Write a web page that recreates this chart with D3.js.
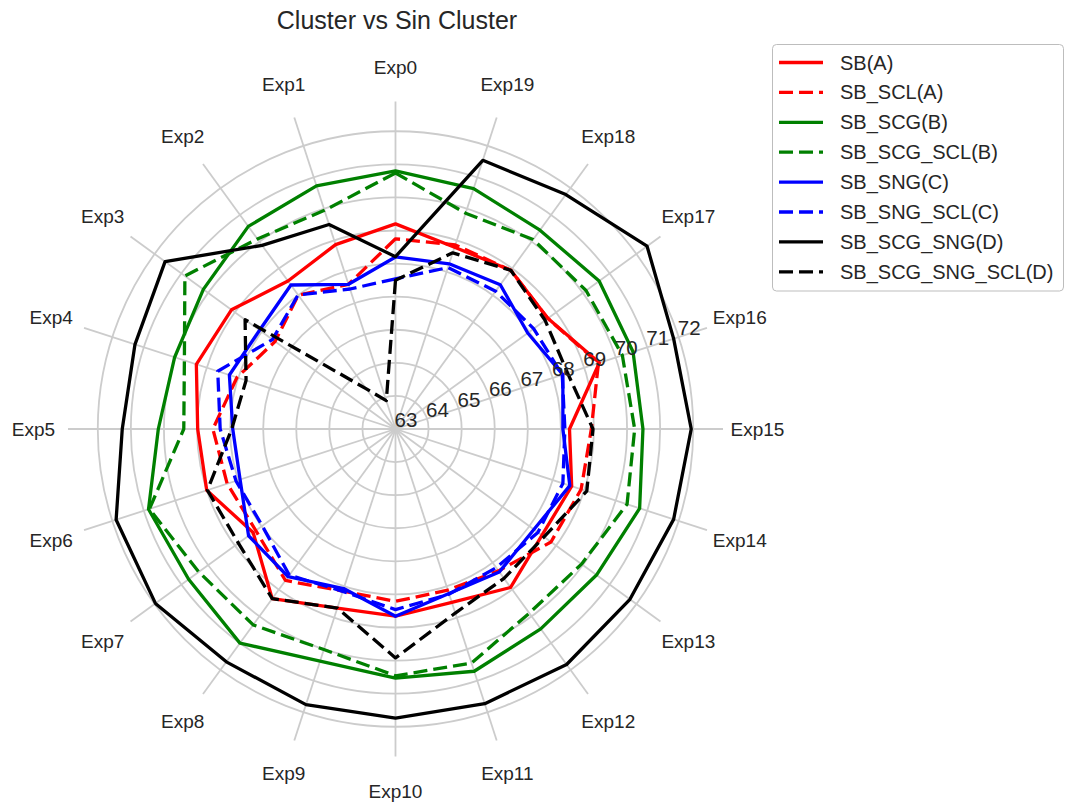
<!DOCTYPE html>
<html>
<head>
<meta charset="utf-8">
<script src="https://cdn.jsdelivr.net/npm/d3@7"></script>
<style>
  body { margin: 0; background: #ffffff; }
  svg { display: block; font-family: Arial, "Liberation Sans", sans-serif; }
</style>
</head>
<body>
<svg id="chart" width="1065" height="802"></svg>
<script>
// Experiments placed around the circle (counter-clockwise from the top)
const categories = ["Exp0","Exp1","Exp2","Exp3","Exp4","Exp5","Exp6","Exp7","Exp8","Exp9",
                    "Exp10","Exp11","Exp12","Exp13","Exp14","Exp15","Exp16","Exp17","Exp18","Exp19"];

// Radial tick values
const radialTicks = [63, 64, 65, 66, 67, 68, 69, 70, 71, 72];

// Scores per experiment, one array per configuration
const sbA          = [69.20, 68.86, 68.53, 69.13, 69.33, 68.98, 69.00, 68.32, 69.34, 68.69,
                      68.66, 68.51, 68.92, 68.47, 68.60, 68.26, 69.48, 68.69, 68.93, 68.78];
const sbSclA       = [68.75, 67.60, 68.00, 67.50, 68.04, 68.52, 68.35, 68.22, 68.66, 68.15,
                      68.21, 68.12, 68.30, 68.81, 68.90, 68.92, 69.45, 68.69, 68.93, 68.85];
const sbScgB       = [70.80, 70.73, 70.57, 70.18, 70.02, 70.17, 70.85, 70.73, 71.00, 70.38,
                      70.53, 70.70, 70.47, 70.51, 70.76, 70.48, 70.55, 70.61, 70.43, 70.64];
const sbScgSclB    = [70.74, 69.95, 70.10, 70.87, 69.71, 69.40, 70.82, 70.35, 70.32, 70.01,
                      70.46, 70.44, 69.88, 69.95, 70.36, 70.23, 70.21, 70.12, 70.08, 69.86];
const sbSngC       = [68.20, 67.60, 68.38, 68.08, 68.28, 67.92, 67.94, 68.49, 68.52, 68.07,
                      68.66, 68.23, 68.34, 68.17, 68.54, 68.06, 68.32, 67.94, 68.39, 68.25];
const sbSngSclC    = [67.54, 67.45, 68.01, 67.60, 68.65, 68.30, 68.07, 67.98, 68.46, 68.16,
                      68.46, 68.25, 68.18, 68.32, 68.32, 68.12, 68.30, 68.16, 68.15, 68.13];
const sbScgSngD    = [68.21, 69.50, 69.86, 71.61, 71.28, 71.26, 71.88, 71.97, 71.70, 71.76,
                      71.74, 71.73, 71.80, 71.76, 71.84, 71.94, 71.84, 72.40, 71.76, 71.54];
const sbScgSngSclD = [67.50, 63.90, 64.50, 68.62, 67.75, 67.95, 68.98, 68.87, 69.34, 68.69,
                      69.92, 68.85, 68.58, 68.55, 69.08, 68.97, 68.47, 68.59, 68.93, 68.60];

const seriesNames = ["SB(A)", "SB_SCL(A)", "SB_SCG(B)", "SB_SCG_SCL(B)",
                     "SB_SNG(C)", "SB_SNG_SCL(C)", "SB_SCG_SNG(D)", "SB_SCG_SNG_SCL(D)"];
const seriesValues = [sbA, sbSclA, sbScgB, sbScgSclB, sbSngC, sbSngSclC, sbScgSngD, sbScgSngSclD];

// Drawing styles
const seriesColors = ["#ff0000", "#ff0000", "#008000", "#008000", "#0000ff", "#0000ff", "#000000", "#000000"];
const seriesDashed = [false, true, false, true, false, true, false, true];

const series = seriesNames.map((name, i) => ({
  name, values: seriesValues[i], color: seriesColors[i], dashed: seriesDashed[i]
}));

const svg = d3.select("#chart");
const cx = 395.5, cy = 429;
const textColor = "#262626";
const gridColor = "#cccccc";
const gridWidth = 1.8;
const lineWidth = 3.3;
const dashPattern = "14,6";

// Scales
const r = d3.scaleLinear().domain([63, 72.9]).range([0, 327.5]);
const angle = d3.scaleLinear().domain([0, categories.length]).range([0, -2 * Math.PI]);

const plot = svg.append("g").attr("transform", `translate(${cx},${cy})`);

// Circular grid
plot.append("g").selectAll("circle")
  .data(radialTicks.filter(t => t > r.domain()[0]))
  .join("circle")
  .attr("r", d => r(d))
  .attr("fill", "none")
  .attr("stroke", gridColor)
  .attr("stroke-width", gridWidth);

// Spokes
const rMax = r.range()[1];
plot.append("g").selectAll("line")
  .data(categories)
  .join("line")
  .attr("x1", 0).attr("y1", 0)
  .attr("x2", (d, i) => rMax * Math.sin(angle(i)))
  .attr("y2", (d, i) => -rMax * Math.cos(angle(i)))
  .attr("stroke", gridColor)
  .attr("stroke-width", gridWidth);

// Category labels
const labelRadius = rMax + 34.5;
plot.append("g").selectAll("text")
  .data(categories)
  .join("text")
  .attr("x", (d, i) => labelRadius * Math.sin(angle(i)))
  .attr("y", (d, i) => -labelRadius * Math.cos(angle(i)))
  .attr("text-anchor", "middle")
  .attr("dominant-baseline", "central")
  .attr("font-size", 19)
  .attr("fill", textColor)
  .text(d => d);

// Series outlines
const radar = d3.lineRadial()
  .angle((d, i) => angle(i))
  .radius(d => r(d))
  .curve(d3.curveLinearClosed);

plot.append("g").selectAll("path")
  .data(series)
  .join("path")
  .attr("d", d => radar(d.values))
  .attr("fill", "none")
  .attr("stroke", d => d.color)
  .attr("stroke-width", lineWidth)
  .attr("stroke-linejoin", "round")
  .attr("stroke-dasharray", d => d.dashed ? dashPattern : null);

// Radial tick labels along the Exp16 spoke
const tickAngle = angle(16);
plot.append("g").selectAll("text")
  .data(radialTicks)
  .join("text")
  .attr("x", d => r(d) * Math.sin(tickAngle) + 10.5)
  .attr("y", d => -r(d) * Math.cos(tickAngle) - 9.5)
  .attr("text-anchor", "middle")
  .attr("dominant-baseline", "central")
  .attr("font-size", 20.5)
  .attr("fill", textColor)
  .text(d => d);

// Title
svg.append("text")
  .attr("x", 397).attr("y", 20)
  .attr("text-anchor", "middle")
  .attr("dominant-baseline", "central")
  .attr("font-size", 25)
  .attr("fill", textColor)
  .text("Cluster vs Sin Cluster");

// Legend
const legend = svg.append("g");
legend.append("rect")
  .attr("x", 772.5).attr("y", 44.5)
  .attr("width", 291).attr("height", 246.5)
  .attr("rx", 4)
  .attr("fill", "#ffffff")
  .attr("fill-opacity", 0.8)
  .attr("stroke", "#bdbdbd")
  .attr("stroke-width", 1);

const rowY = d3.scaleLinear().domain([0, series.length - 1]).range([62.5, 271.8]);
const rows = legend.selectAll("g.row")
  .data(series)
  .join("g")
  .attr("class", "row")
  .attr("transform", (d, i) => `translate(0,${rowY(i)})`);

rows.append("line")
  .attr("x1", 779).attr("x2", 823)
  .attr("y1", 0).attr("y2", 0)
  .attr("stroke", d => d.color)
  .attr("stroke-width", lineWidth)
  .attr("stroke-dasharray", d => d.dashed ? dashPattern : null);

rows.append("text")
  .attr("x", 840).attr("y", 0)
  .attr("dominant-baseline", "central")
  .attr("font-size", 20)
  .attr("fill", textColor)
  .text(d => d.name);
</script>
</body>
</html>
